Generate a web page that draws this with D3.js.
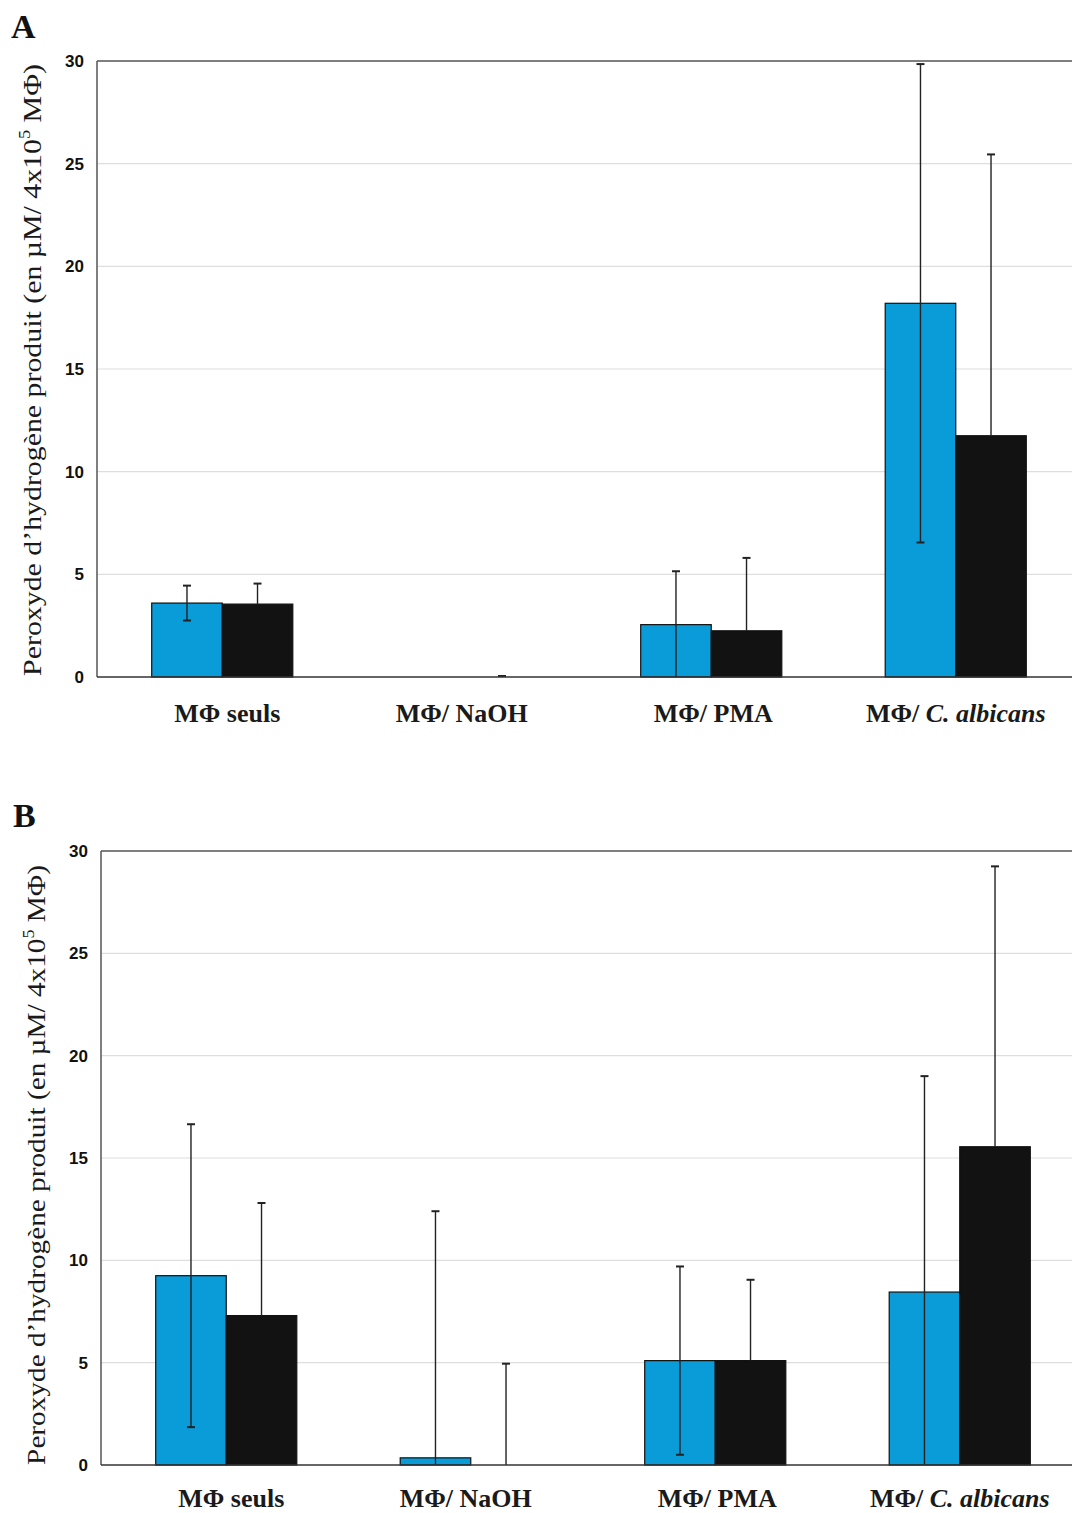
<!DOCTYPE html>
<html>
<head>
<meta charset="utf-8">
<script src="https://cdn.jsdelivr.net/npm/d3@7"></script>
<style>
  body { margin: 0; background: #fff; }
  svg { display: block; }
</style>
</head>
<body>
<div id="chart"></div>
<script>
// Data
const categories = ["MΦ seuls", "MΦ/ NaOH", "MΦ/ PMA", "MΦ/ C. albicans"];
const series = ["bleu", "noir"];
const yTicks = [0, 5, 10, 15, 20, 25, 30];

const aBlue = [3.6, 0, 2.55, 18.2];
const aBlueErr = [0.85, 0, 2.6, 11.65];
const aBlack = [3.55, 0, 2.25, 11.75];
const aBlackErr = [1.0, 0.05, 3.55, 13.7];

const bBlue = [9.25, 0.35, 5.1, 8.45];
const bBlueErr = [7.4, 12.05, 4.6, 10.55];
const bBlack = [7.3, 0, 5.1, 15.55];
const bBlackErr = [5.5, 4.95, 3.95, 13.7];

// small nudges of the x labels, as printed
const labelNudge = [5, -5, 2, 0];

const colors = {bleu: "#0a9bd9", noir: "#121212"};

const svg = d3.select("#chart").append("svg")
    .attr("width", 1072)
    .attr("height", 1513);

function drawPanel(letter, letterPos, box, blue, blueErr, black, blackErr) {
    const g = svg.append("g");

    const y = d3.scaleLinear().domain([0, 30]).range([box.bottom, box.top]);
    const x = d3.scaleBand()
        .domain(categories)
        .range([box.bandStart, box.bandStart + 978])
        .paddingInner(0.423)
        .paddingOuter(0.2115);
    const xs = d3.scaleBand().domain(series).range([0, x.bandwidth()]);

    //Gridlines
    g.selectAll(".grid")
        .data(yTicks.filter(d => d > 0 && d < 30))
        .enter().append("line")
        .attr("x1", box.left)
        .attr("x2", 1072)
        .attr("y1", d => y(d))
        .attr("y2", d => y(d))
        .attr("stroke", "#dedede")
        .attr("stroke-width", 1.2);

    //Frame: top and left
    g.append("line")
        .attr("x1", box.left).attr("x2", 1072)
        .attr("y1", y(30)).attr("y2", y(30))
        .attr("stroke", "#555").attr("stroke-width", 1.5);
    g.append("line")
        .attr("x1", box.left).attr("x2", box.left)
        .attr("y1", y(30)).attr("y2", y(0))
        .attr("stroke", "#555").attr("stroke-width", 1.5);

    //Y axis labels
    const yAxis = g.append("g")
        .attr("transform", "translate(" + box.left + ",0)")
        .call(d3.axisLeft(y).tickValues(yTicks).tickSize(0).tickPadding(13));
    yAxis.select(".domain").remove();
    yAxis.selectAll("text")
        .style("font-family", "Liberation Sans, Arial, sans-serif")
        .style("font-weight", "bold")
        .style("font-size", "17px")
        .attr("fill", "#111");

    //Bars
    const rows = categories.map((c, i) => ({
        cat: c,
        vals: [
            {s: "bleu", v: blue[i], e: blueErr[i]},
            {s: "noir", v: black[i], e: blackErr[i]}
        ]
    }));

    const groups = g.selectAll(".grp")
        .data(rows)
        .enter().append("g")
        .attr("class", "grp")
        .attr("transform", d => "translate(" + x(d.cat) + ",0)");

    groups.selectAll("rect")
        .data(d => d.vals.filter(v => v.v > 0))
        .enter().append("rect")
        .attr("x", d => xs(d.s))
        .attr("y", d => y(d.v))
        .attr("width", xs.bandwidth())
        .attr("height", d => y(0) - y(d.v))
        .attr("fill", d => colors[d.s])
        .attr("stroke", "#111")
        .attr("stroke-width", 1.2);

    //Error bars (the part inside black bars is not visible)
    const errs = groups.selectAll(".err")
        .data(d => d.vals.filter(v => v.e > 0))
        .enter().append("g")
        .attr("class", "err")
        .attr("transform", d => "translate(" + (xs(d.s) + xs.bandwidth() / 2) + ",0)");
    errs.append("line")
        .attr("y1", d => d.s === "noir" && d.v > 0 ? y(d.v) : y(Math.max(0, d.v - d.e)))
        .attr("y2", d => y(d.v + d.e))
        .attr("stroke", "#222").attr("stroke-width", 1.4);
    errs.append("line")
        .attr("x1", -4).attr("x2", 4)
        .attr("y1", d => y(d.v + d.e)).attr("y2", d => y(d.v + d.e))
        .attr("stroke", "#222").attr("stroke-width", 2);
    errs.filter(d => d.v - d.e > 0 && d.s === "bleu").append("line")
        .attr("x1", -4).attr("x2", 4)
        .attr("y1", d => y(d.v - d.e)).attr("y2", d => y(d.v - d.e))
        .attr("stroke", "#222").attr("stroke-width", 2);

    //Baseline
    g.append("line")
        .attr("x1", box.left).attr("x2", 1072)
        .attr("y1", y(0)).attr("y2", y(0))
        .attr("stroke", "#333").attr("stroke-width", 1.6);

    //X labels
    const labels = g.selectAll(".xlab")
        .data(categories)
        .enter().append("text")
        .attr("class", "xlab")
        .attr("x", (d, i) => x(d) + x.bandwidth() / 2 + labelNudge[i])
        .attr("y", y(0) + box.labelGap)
        .attr("text-anchor", "middle")
        .style("font-family", "Liberation Serif, Times New Roman, serif")
        .style("font-weight", "bold")
        .style("font-size", "26px")
        .attr("fill", "#1a1a1a");
    labels.each(function (d) {
        const t = d3.select(this);
        if (d.indexOf("C. albicans") >= 0) {
            t.append("tspan").text("MΦ/ ");
            t.append("tspan").style("font-style", "italic").text("C. albicans");
        } else {
            t.text(d);
        }
    });

    //Y title (stretched along its length like the scan)
    const cy = (y(0) + y(30)) / 2 + box.titleShift;
    const title = g.append("text")
        .attr("text-anchor", "middle")
        .style("font-family", "Liberation Serif, Times New Roman, serif")
        .style("font-size", "26px")
        .attr("fill", "#1a1a1a");
    title.append("tspan").text("Peroxyde d’hydrogène produit (en µM/ 4x10");
    title.append("tspan").attr("dy", -11).style("font-size", "16px").text("5");
    title.append("tspan").attr("dy", 11).text(" MΦ)");
    const len = title.node().getComputedTextLength();
    const sx = box.titleLength / len;
    title.attr("transform", "translate(" + (box.left - 56) + "," + cy + ") rotate(-90) scale(" + sx + ",1)");

    //Panel letter
    g.append("text")
        .attr("x", letterPos[0])
        .attr("y", letterPos[1])
        .style("font-family", "Liberation Serif, Times New Roman, serif")
        .style("font-weight", "bold")
        .style("font-size", "34px")
        .attr("fill", "#111")
        .text(letter);
}

drawPanel("A", [11, 38], {left: 97, top: 61, bottom: 677, bandStart: 100, labelGap: 45, titleShift: 1, titleLength: 612},
    aBlue, aBlueErr, aBlack, aBlackErr);
drawPanel("B", [13, 827], {left: 101, top: 851, bottom: 1465, bandStart: 104, labelGap: 42, titleShift: 7, titleLength: 600},
    bBlue, bBlueErr, bBlack, bBlackErr);
</script>
</body>
</html>
